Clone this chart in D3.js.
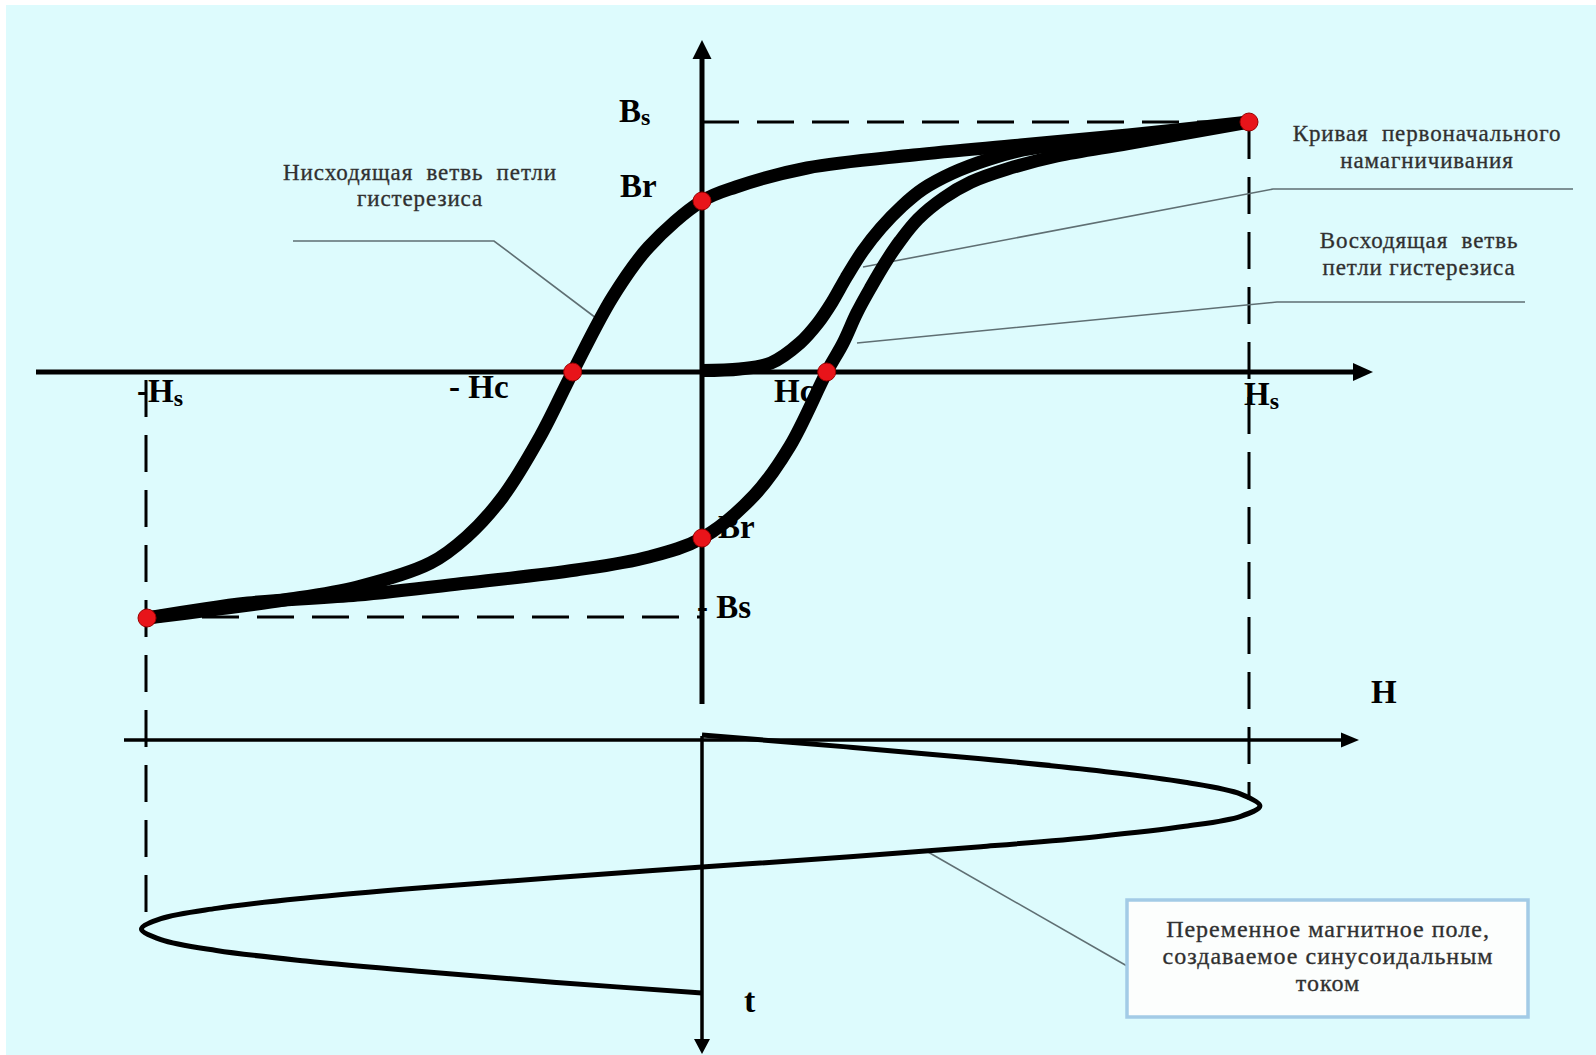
<!DOCTYPE html>
<html><head><meta charset="utf-8">
<script src="https://cdn.jsdelivr.net/npm/d3@7"></script>
<style>html,body{margin:0;padding:0;background:#fff;} svg{display:block;}</style>
</head><body>
<svg id="c" width="1596" height="1055"></svg>
<script>
// ---- data (H normalised to Hs, B normalised to Bs) ----
const descH = [1.0, 0.779, 0.582, 0.387, 0.192, 0.062, 0.0, -0.096, -0.161, -0.233, -0.292, -0.359, -0.424, -0.489, -0.621, -0.753, -0.883, -1.0];
const descB = [1.0, 0.948, 0.908, 0.868, 0.816, 0.740, 0.684, 0.50, 0.30, 0.0, -0.264, -0.508, -0.67, -0.776, -0.874, -0.927, -0.967, -1.0];
const ascH = [-1.0, -0.818, -0.621, -0.424, -0.227, -0.096, 0.0, 0.096, 0.161, 0.228, 0.258, 0.283, 0.309, 0.336, 0.362, 0.395, 0.441, 0.492, 0.558, 0.649, 0.779, 1.0];
const ascB = [-1.0, -0.939, -0.907, -0.858, -0.805, -0.752, -0.675, -0.50, -0.30, 0.0, 0.116, 0.236, 0.34, 0.44, 0.524, 0.612, 0.695, 0.76, 0.812, 0.864, 0.914, 1.0];
const initH = [0.0, 0.069, 0.126, 0.179, 0.212, 0.238, 0.263, 0.294, 0.327, 0.366, 0.404, 0.457, 0.523, 0.587, 0.647, 0.779];
const initB = [0.006, 0.012, 0.036, 0.116, 0.196, 0.28, 0.376, 0.484, 0.576, 0.664, 0.732, 0.795, 0.85, 0.888, 0.908, 0.932];
const markerH = [1.0, 0.0, -0.233, 0.228, 0.0, -1.0];
const markerB = [1.0, 0.684, 0.0, 0.0, -0.675, -1.0];
const sineT = [0, 0.046, 0.092, 0.138, 0.183, 0.229, 0.275, 0.315, 0.354, 0.394, 0.433, 0.473, 0.512, 0.552, 0.592, 0.632, 0.672, 0.712, 0.752, 0.793, 0.835, 0.876, 0.917, 0.959, 1.0];
const sineH = [0, 0.264, 0.51, 0.721, 0.883, 0.985, 1.02, 0.985, 0.883, 0.721, 0.51, 0.264, 0, -0.262, -0.505, -0.714, -0.875, -0.975, -1.01, -0.975, -0.875, -0.714, -0.505, -0.262, 0];
const noteDesc = ["Нисходящая  ветвь  петли", "гистерезиса"];
const noteInit = ["Кривая  первоначального", "намагничивания"];
const noteAsc = ["Восходящая  ветвь", "петли гистерезиса"];
const noteSine = ["Переменное магнитное поле,", "создаваемое синусоидальным", "током"];

// ---- scales ----
const x = d3.scaleLinear().domain([-1, 0, 1]).range([147, 702, 1249]);
const y = d3.scaleLinear().domain([-1, 0, 1]).range([618, 372, 122]);
const ty = d3.scaleLinear().domain([0, 1]).range([735, 993]);

const svg = d3.select("#c");
svg.append("rect").attr("x", 0).attr("y", 0).attr("width", 1596).attr("height", 1055).attr("fill", "#ffffff");
svg.append("rect").attr("x", 6).attr("y", 5).attr("width", 1590).attr("height", 1050).attr("fill", "#ddfbfd");

const serif = "'Liberation Serif','Times New Roman',serif";
const ink = "#000";

// ---- dashed guides ----
const dash = "37,18";
function dline(x1, y1, x2, y2) {
  svg.append("line").attr("x1", x1).attr("y1", y1).attr("x2", x2).attr("y2", y2)
    .attr("stroke", ink).attr("stroke-width", 3).attr("stroke-dasharray", dash);
}
dline(x(0), y(1), x(1), y(1));
dline(x(1), y(1), x(1), 800);
dline(x(-1) - 1, y(0) + 8, x(-1) - 1, 922);
dline(x(-1), y(-1) - 1, x(0), y(-1) - 1);

// ---- axes ----
function arrowLine(x1, y1, x2, y2, w, hl, hw) {
  const dx = x2 - x1, dy = y2 - y1, L = Math.hypot(dx, dy), ux = dx / L, uy = dy / L;
  const bx = x2 - ux * hl, by = y2 - uy * hl;
  svg.append("line").attr("x1", x1).attr("y1", y1).attr("x2", bx + ux * 2).attr("y2", by + uy * 2)
    .attr("stroke", ink).attr("stroke-width", w);
  svg.append("path").attr("d", `M${x2},${y2}L${bx - uy * hw / 2},${by + ux * hw / 2}L${bx + uy * hw / 2},${by - ux * hw / 2}Z`).attr("fill", ink);
}
arrowLine(x(0), 704, x(0), 40, 5, 19, 19);
arrowLine(36, y(0), 1373, y(0), 5, 20, 18);
arrowLine(124, 740, 1359, 740, 3.5, 18, 15);
arrowLine(x(0), 736, x(0), 1054, 3.5, 15, 16);

// ---- labels (bold axis labels) ----
function lab(tx, ty_, main, sub, size, subSize, subDy) {
  const t = svg.append("text").attr("x", tx).attr("y", ty_).attr("font-family", serif)
    .attr("font-weight", "bold").attr("font-size", size).attr("fill", ink).style("white-space", "pre");
  t.append("tspan").text(main);
  if (sub) t.append("tspan").attr("font-size", subSize).attr("dy", subDy).text(sub);
}
lab(619, 122, "B", "s", 33, 24, 3);
lab(620, 197, "Br", null, 33);
lab(137, 402, "-H", "s", 33, 24, 4);
lab(449, 398, "- Hc", null, 33);
lab(774, 402, "Hc", null, 33);
lab(1244, 405, "H", "s", 33, 24, 4);
lab(718, 538, "Br", null, 33);
lab(697, 618, "- Bs", null, 33);
lab(1371, 703, "H", null, 33);
lab(744, 1012, "t", null, 34);

// ---- annotation texts & leaders ----
const leaderCol = "#5f6f73";
function leader(pts) {
  svg.append("path").attr("d", d3.line()(pts)).attr("fill", "none").attr("stroke", leaderCol).attr("stroke-width", 1.6);
}
function note(lines, cx, y0, dy, fs, ls) {
  const g = svg.append("g");
  lines.forEach((s, i) => {
    g.append("text").attr("x", cx).attr("y", y0 + i * dy).attr("text-anchor", "middle")
      .attr("font-family", serif).attr("font-size", fs).attr("letter-spacing", ls)
      .attr("fill", "#2e2e2e").attr("stroke", "#3a3a3a").attr("stroke-width", 0.35)
      .style("white-space", "pre").text(s);
  });
}
note(noteDesc, 420, 180, 26, 23, 0.9);
leader([[293, 241], [494, 241], [596, 318]]);
note(noteInit, 1427, 141, 27, 23, 0.9);
leader([[1573, 189], [1273, 189], [863, 267]]);
note(noteAsc, 1419, 248, 27, 23, 0.9);
leader([[1525, 302], [1277, 302], [857, 343]]);

// box for sine note
leader([[1127, 966], [928, 852]]);
svg.append("rect").attr("x", 1127).attr("y", 900).attr("width", 401).attr("height", 117)
  .attr("fill", "#fcfefd").attr("stroke", "#a3cbe6").attr("stroke-width", 3.5);
note(noteSine, 1328, 937, 27, 24, 1.0);

// ---- curves ----
const curve = d3.line().curve(d3.curveCatmullRom.alpha(0.5));
function thick(hs, bs) {
  svg.append("path").attr("d", curve(hs.map((h, i) => [x(h), y(bs[i])])))
    .attr("fill", "none").attr("stroke", ink).attr("stroke-width", 13).attr("stroke-linecap", "butt");
}
thick(initH, initB);
thick(ascH, ascB);
thick(descH, descB);

// sinusoidal field
svg.append("path").attr("d", curve(sineT.map((t, i) => [x(sineH[i]), ty(t)])))
  .attr("fill", "none").attr("stroke", ink).attr("stroke-width", 5);

// ---- markers ----
svg.selectAll("circle.m").data(markerH).enter().append("circle").attr("class", "m")
  .attr("cx", d => x(d)).attr("cy", (d, i) => y(markerB[i])).attr("r", 9)
  .attr("fill", "#e8141a").attr("stroke", "#9a0000").attr("stroke-width", 1);
</script>
</body></html>
